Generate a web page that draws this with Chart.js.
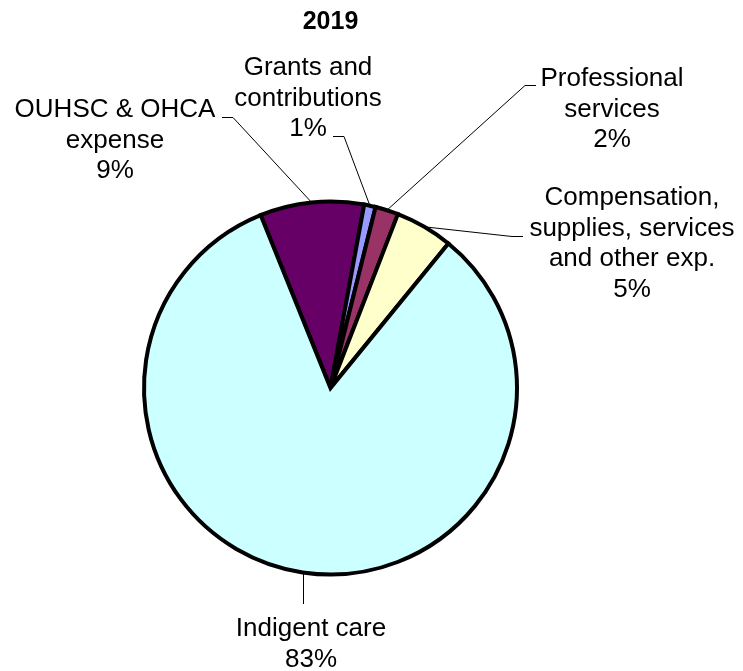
<!DOCTYPE html>
<html>
<head>
<meta charset="utf-8">
<script src="https://cdn.jsdelivr.net/npm/chart.js@4"></script>
<style>
  html, body { margin: 0; padding: 0; background: #fff; }
  #wrap { width: 743px; height: 671px; position: relative; }
</style>
</head>
<body>
<div id="wrap"><canvas id="expenseChart"></canvas></div>
<script>
// 2019 expense breakdown, clockwise from the OUHSC slice
const categories = ['OUHSC & OHCA expense', 'Grants and contributions', 'Professional services',
    'Compensation, supplies, services and other exp.', 'Indigent care'];
const shares = [9, 1, 2, 5, 83];
const labelLines = [
    ['OUHSC & OHCA', 'expense'],
    ['Grants and', 'contributions'],
    ['Professional', 'services'],
    ['Compensation,', 'supplies, services', 'and other exp.'],
    ['Indigent care']
];

const sliceColors = ['#660066', '#9999FF', '#993366', '#FFFFCC', '#CCFFFF'];
const fontFamily = '"Liberation Sans", Arial, sans-serif';

// where each callout sits: elbow of the leader line, end of the short tick,
// text centre and baseline of the first line
const callouts = [
    { elbow: [233, 117.5], tick: [222, 117.5], x: 115, y: 117 },
    { elbow: [344, 136.5], tick: [333, 136.5], x: 308, y: 75 },
    { elbow: [525, 85.5], tick: [536, 85.5], x: 612, y: 86 },
    { elbow: [512, 236.5], tick: [523, 236.5], x: 632, y: 205 },
    { elbow: [303.5, 604], tick: null, x: 311, y: 636 }
];
const lineHeight = 30.5;

const calloutPlugin = {
    id: 'callouts',
    afterDatasetsDraw(chart) {
        const ctx = chart.ctx;
        const meta = chart.getDatasetMeta(0);
        const total = shares.reduce((a, b) => a + b, 0);
        ctx.save();
        meta.data.forEach((arc, i) => {
            const p = arc.getProps(['x', 'y', 'startAngle', 'endAngle', 'outerRadius'], true);
            const mid = (p.startAngle + p.endAngle) / 2;
            let sx = p.x + Math.cos(mid) * p.outerRadius;
            const sy = p.y + Math.sin(mid) * p.outerRadius;
            const c = callouts[i];
            // keep the straight drop under the big slice vertical
            if (!c.tick) sx = c.elbow[0];

            ctx.strokeStyle = '#000';
            ctx.lineWidth = 1;
            ctx.beginPath();
            ctx.moveTo(sx, sy);
            ctx.lineTo(c.elbow[0], c.elbow[1]);
            if (c.tick) ctx.lineTo(c.tick[0], c.tick[1]);
            ctx.stroke();

            const lines = labelLines[i].concat([Math.round(shares[i] / total * 100) + '%']);
            ctx.fillStyle = '#000';
            ctx.font = '26px ' + fontFamily;
            ctx.textAlign = 'center';
            ctx.textBaseline = 'alphabetic';
            lines.forEach((t, k) => ctx.fillText(t, c.x, c.y + k * lineHeight));
        });
        ctx.restore();
    }
};

const ctx = document.getElementById('expenseChart').getContext('2d');
const expenseChart = new Chart(ctx, {
    type: 'pie',
    data: {
        labels: categories,
        datasets: [{
            data: shares,
            backgroundColor: sliceColors,
            borderColor: '#000',
            borderWidth: 4,
            borderJoinStyle: 'miter',
            radius: 186.5
        }]
    },
    options: {
        responsive: true,
        maintainAspectRatio: false,
        animation: false,
        rotation: -22,
        layout: {
            padding: { left: 0, right: 82, top: 0, bottom: 0 }
        },
        plugins: {
            legend: { display: false },
            tooltip: { enabled: false },
            title: {
                display: true,
                text: '2019',
                color: '#000',
                font: { family: fontFamily, size: 25, weight: 'bold' },
                padding: { top: 7, bottom: 68 }
            }
        }
    },
    plugins: [calloutPlugin]
});
</script>
</body>
</html>
